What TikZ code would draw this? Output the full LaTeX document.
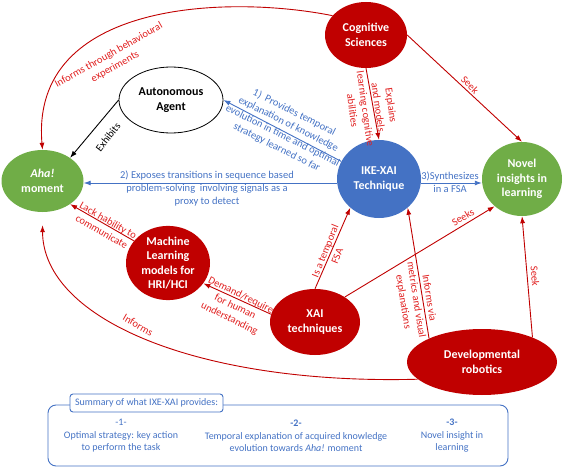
\documentclass[tikz,border=0pt]{standalone}
\usepackage{fontspec}
\setmainfont{Carlito}
\usetikzlibrary{arrows.meta,shapes.geometric}
\definecolor{IkeRed}{HTML}{C00000}
\definecolor{IkeLabel}{HTML}{E01F1F}
\definecolor{IkeBlue}{HTML}{4472C4}
\definecolor{IkeGreen}{HTML}{70AD47}

\begin{document}
\begin{tikzpicture}[x=1pt,y=-1pt,
    every node/.style={align=center},
    concept/.style={ellipse,inner sep=0pt,font=\fontsize{12}{14.5}\selectfont\bfseries,text=white},
    redc/.style={concept,fill=IkeRed},
    greenc/.style={concept,fill=IkeGreen},
    link/.style={line width=0.9pt,-{Latex[length=7pt,width=5pt]}},
    redl/.style={link,IkeRed},
    bluel/.style={link,IkeBlue},
    rtxt/.style={text=IkeLabel,font=\fontsize{10.5}{13}\selectfont},
    btxt/.style={text=IkeBlue,font=\fontsize{10.5}{13}\selectfont},
    sumtxt/.style={text=IkeBlue,font=\fontsize{10}{12.5}\selectfont}]
  \useasboundingbox (0,0) rectangle (565,468);
  % concepts
  \node[redc,minimum width=82pt,minimum height=66pt] (cog) at (366,35) {Cognitive\\Sciences};
  \node[concept,draw,fill=white,text=black,line width=0.8pt,minimum width=104pt,minimum height=66pt] (agent) at (171,100) {Autonomous\\Agent};
  \node[greenc,minimum width=82pt,minimum height=62pt] (aha) at (42.5,181) {\textit{Aha!}\\moment};
  \node[concept,fill=IkeBlue,minimum width=84pt,minimum height=78pt] (ike) at (379,179) {IKE-XAI\\Technique};
  \node[greenc,minimum width=80pt,minimum height=74pt] (novel) at (522,179) {Novel\\insights in\\learning};
  \node[redc,minimum width=84pt,minimum height=72pt] (ml) at (168,263) {Machine\\Learning\\models for\\HRI/HCI};
  \node[redc,minimum width=90pt,minimum height=66pt] (xai) at (315,322) {XAI\\techniques};
  \node[redc,minimum width=150pt,minimum height=66pt] (dev) at (482,362) {Developmental\\robotics};
  % connectors
  \draw[redl] (cog.150) .. controls (230,-5) and (30,0) .. (aha.north);
  \draw[redl] (cog.east) -- (novel.north);
  \draw[redl] (cog.south) -- (ike.north);
  \draw[link] (agent.west) -- (aha.40);
  \draw[bluel] (ike.155) -- (agent.east);
  \draw[bluel] ([yshift=-4pt]ike.west) -- ([yshift=-2pt]aha.east);
  \draw[bluel] ([yshift=-4pt]ike.east) -- ([yshift=-4pt]novel.west);
  \foreach \a/\b in {xai.north/ike.225,xai.40/novel.225,xai.170/ml.330,dev.156/ike.315,dev.26/novel.south,ml.147/aha.-40}{\draw[redl] (\a) -- (\b);}
  \draw[redl] (dev.195) .. controls (200,385) and (43,320) .. ([yshift=-13pt]aha.south);
  % labels
  \node[rtxt,rotate=29.5] (l-behav) at (112,61) {Informs through behavioural\\experiments};
  \node[rtxt,rotate=-45] (l-seek) at (470,85) {Seek};
  \node[rtxt,rotate=-82] (l-expl) at (372,108) {Explains\\and models\\learning cognitive\\abilities};
  \node[rotate=52,font=\fontsize{10.5}{13}\selectfont] (l-exh) at (108,137) {Exhibits};
  \node[btxt,rotate=-26.6] (l-one) at (285.5,130) {1)\ \ Provides temporal\\explanation of knowledge\\evolution in time and optimal\\strategy learned so far};
  \node[btxt] (l-two) at (207,189) {2) Exposes transitions in sequence based\\problem-solving\ \ involving signals as a\\proxy to detect};
  \node[btxt] (l-three) at (450,182.5) {3)Synthesizes\\in a FSA};
  \node[rtxt,rotate=68] (l-fsa) at (331,253.5) {Is a temporal\\FSA};
  \node[rtxt,rotate=31] (l-seeks) at (463,217) {Seeks};
  \node[rtxt,rotate=-26] (l-dem) at (235,307) {Demand/require\\for human\\understanding};
  \node[rtxt,rotate=-81] (l-via) at (416,300) {Informs via\\metrics and visual\\explanations};
  \node[rtxt,rotate=-86] (l-seek2) at (535,276) {Seek};
  \node[rtxt,rotate=-30] (l-lack) at (105,226) {Lack hability to\\communicate};
  \node[rtxt,rotate=-30] (l-inf) at (138,325) {Informs};
  % summary
  \node[draw=IkeBlue,line width=0.9pt,rounded corners=8pt,minimum width=460pt,minimum height=61pt] (sum) at (278,435.5) {};
  \node[draw=IkeBlue,fill=white,line width=0.9pt,rounded corners=3pt,minimum width=153pt,minimum height=18pt,inner sep=1pt,sumtxt] (sumtitle) at (146.5,403) {Summary of what IXE-XAI provides:};
  \node[sumtxt] (s-one) at (121,436) {-1-\\Optimal strategy: key action\\to perform the task};
  \node[sumtxt] (s-two) at (296,436) {\textbf{-2-}\\Temporal explanation of acquired knowledge\\evolution towards \textit{Aha!} moment};
  \node[sumtxt] (s-three) at (452,436) {\textbf{-3-}\\Novel insight in\\learning};
\end{tikzpicture}
\end{document}
